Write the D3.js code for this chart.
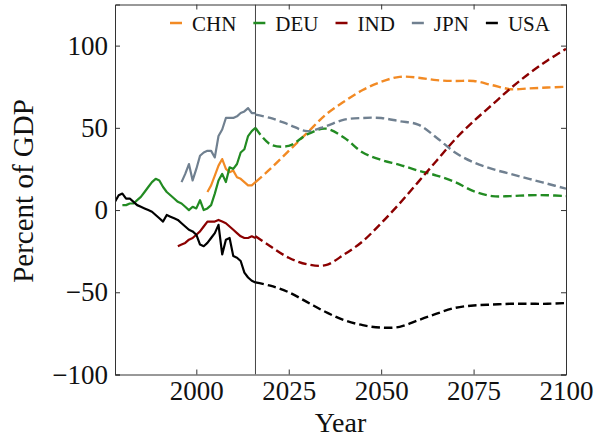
<!DOCTYPE html>
<html>
<head>
<meta charset="utf-8">
<script src="https://cdn.jsdelivr.net/npm/d3@7"></script>
<style>
  html, body { margin: 0; padding: 0; background: #fff; }
  svg { display: block; }
  text { font-family: "Liberation Serif", "Times New Roman", serif; fill: #111; }
</style>
</head>
<body>
<svg id="chart" width="595" height="442"></svg>
<script>
// ---------------- DATA ----------------
const countries = ["CHN", "DEU", "IND", "JPN", "USA"];
const colors = ["#f28a24", "#228b22", "#8b0000", "#708090", "#000000"];

// Historical (annual)
const usaHistYears = d3.range(1978, 2017);
const usaHist = [5, 9, 10, 7, 7, 5, 3, 2, 1, 0, -1, -3, -5, -7, -3, -4, -5, -6, -8, -10,
                 -12, -13, -15, -21, -22, -20, -17, -14, -9, -27, -18, -17, -28, -29, -31, -38, -41, -43, -44];

const deuHistYears = d3.range(1980, 2017);
const deuHist = [3, 3, 4, 4, 6, 8, 11, 14, 17, 19, 18, 14, 11, 9, 7, 5, 4, 2, 0, 2,
                 1, 6, 0, 1, 3, 10, 18, 22, 17, 26, 25, 28, 35, 37, 45, 48, 50];

const indHistYears = d3.range(1995, 2017);
const indHist = [-22, -21, -20, -18, -17, -15, -13, -10, -7, -7, -7, -6, -7, -8, -10, -12,
                 -14, -16, -17, -17, -16, -17];

const jpnHistYears = d3.range(1996, 2017);
const jpnHist = [17, 22, 28, 18, 25, 33, 35, 36, 36, 32, 45, 49, 56, 56, 56, 57, 59, 60, 62, 59, 59];

const chnHistYears = d3.range(2003, 2017);
const chnHist = [11, 15, 21, 27, 31, 25, 23, 24, 20, 19, 17, 15, 15, 17];

// Projections (every 5 years from 2016)
const projYears = [2016, 2020, 2025, 2030, 2035, 2040, 2045, 2050, 2055, 2060, 2065, 2070, 2075, 2080, 2085, 2090, 2095, 2100];
const chnProj = [17, 25, 36, 47, 58, 66, 73, 78, 81, 80.5, 79, 78.5, 78.5, 76, 73.5, 74, 74.5, 75];
const deuProj = [50, 40, 39, 46, 49.5, 44, 35, 30.5, 27.5, 24, 21, 17, 11.5, 8.5, 8.5, 9, 9, 8.5];
const indProj = [-16, -22, -29, -33, -33.5, -27, -19, -8, 4, 17, 30, 43, 54, 64, 74, 83, 91, 98];
const jpnProj = [58, 56, 52, 48, 51, 55, 56, 56, 54, 52, 44, 35, 29, 25, 22, 19, 16, 13];
const usaProj = [-44, -46, -50, -56, -62, -67, -70, -71.5, -71, -67, -63, -59.5, -58, -57.5, -57, -57, -57, -56.5];

const splitYear = 2016;
const xTicks = [2000, 2025, 2050, 2075, 2100];
const yTicks = [-100, -50, 0, 50, 100];
const xLabel = "Year";
const yLabel = "Percent of GDP";

// ---------------- LAYOUT ----------------
const svg = d3.select("#chart");
const L = 115, R = 566, T = 4.5, B = 374.5;
const x = d3.scaleLinear().domain([1978, 2100]).range([L, R]);
const y = d3.scaleLinear().domain([-100, 125]).range([B, T]);

const hist = {
  CHN: [chnHistYears, chnHist], DEU: [deuHistYears, deuHist], IND: [indHistYears, indHist],
  JPN: [jpnHistYears, jpnHist], USA: [usaHistYears, usaHist]
};
const proj = { CHN: chnProj, DEU: deuProj, IND: indProj, JPN: jpnProj, USA: usaProj };

svg.append("defs").append("clipPath").attr("id", "clip")
  .append("rect").attr("x", L).attr("y", T).attr("width", R - L).attr("height", B - T);

const plot = svg.append("g").attr("clip-path", "url(#clip)");

// vertical split line
plot.append("line")
  .attr("x1", x(splitYear)).attr("x2", x(splitYear))
  .attr("y1", T).attr("y2", B)
  .attr("stroke", "#444").attr("stroke-width", 1);

const lineH = d3.line().x(d => x(d[0])).y(d => y(d[1]));
const lineP = d3.line().x(d => x(d[0])).y(d => y(d[1])).curve(d3.curveCatmullRom.alpha(0.5));

countries.forEach((c, i) => {
  const [yrs, vals] = hist[c];
  plot.append("path")
    .datum(yrs.map((yr, k) => [yr, vals[k]]))
    .attr("d", lineH)
    .attr("fill", "none").attr("stroke", colors[i]).attr("stroke-width", 2.2)
    .attr("stroke-linejoin", "round");
});
countries.forEach((c, i) => {
  plot.append("path")
    .datum(projYears.map((yr, k) => [yr, proj[c][k]]))
    .attr("d", lineP)
    .attr("fill", "none").attr("stroke", colors[i]).attr("stroke-width", 2.4)
    .attr("stroke-dasharray", "8.5,4");
});

// axes
const fs = 27;
const axB = svg.append("g").attr("transform", `translate(0,${B})`)
  .call(d3.axisBottom(x).tickValues(xTicks).tickFormat(d3.format("d")).tickSize(-5).tickPadding(6));
const axT = svg.append("g").attr("transform", `translate(0,${T})`)
  .call(d3.axisTop(x).tickValues(xTicks).tickFormat("").tickSize(-5));
const axL = svg.append("g").attr("transform", `translate(${L},0)`)
  .call(d3.axisLeft(y).tickValues(yTicks).tickSize(-5).tickPadding(7));
const axR = svg.append("g").attr("transform", `translate(${R},0)`)
  .call(d3.axisRight(y).tickValues(yTicks).tickFormat("").tickSize(-5));

[axB, axT, axL, axR].forEach(g => {
  g.select(".domain").attr("stroke", "#333").attr("stroke-width", 1);
  g.selectAll(".tick line").attr("stroke", "#333").attr("stroke-width", 1);
  g.selectAll(".tick text").attr("font-size", fs)
    .attr("font-family", "'Liberation Serif', serif").attr("fill", "#111");
});

// axis labels
svg.append("text").attr("x", (L + R) / 2).attr("y", 432)
  .attr("text-anchor", "middle").attr("font-size", 28).text(xLabel);
svg.append("text").attr("transform", `translate(33,191) rotate(-90)`)
  .attr("text-anchor", "middle").attr("font-size", 29).text(yLabel);

// legend
const leg = svg.append("g");
let lx = 170;
const ly = 23;
countries.forEach((c, i) => {
  leg.append("line").attr("x1", lx).attr("x2", lx + 12).attr("y1", ly).attr("y2", ly)
    .attr("stroke", colors[i]).attr("stroke-width", 2.5);
  const t = leg.append("text").attr("x", lx + 22).attr("y", ly + 7.5)
    .attr("font-size", 21).text(c);
  lx += 22 + t.node().getComputedTextLength() + 17;
});
</script>
</body>
</html>
